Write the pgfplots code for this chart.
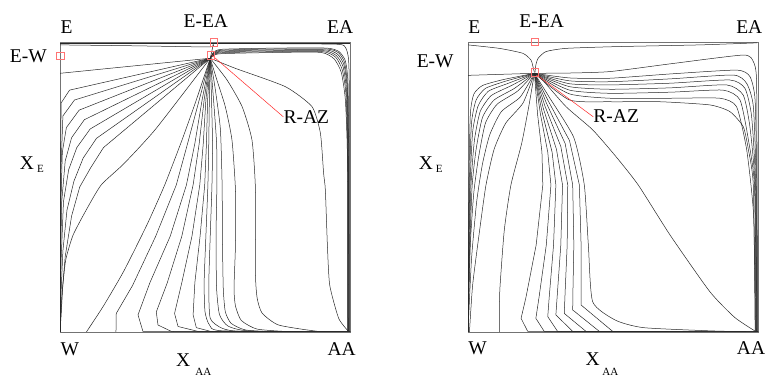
\documentclass[border=0pt]{standalone}
\usepackage{fontspec}
\setmainfont{Liberation Serif}
\newfontfamily\labfont{Liberation Serif}
\usepackage{pgfplots}
\pgfplotsset{compat=1.18}
\begin{document}
\begin{tikzpicture}
\useasboundingbox (0,0) rectangle (766pt,379pt);
\pgfplotsset{
  rcm/.style={width=290pt,height=290pt,scale only axis,xmin=0,xmax=1,ymin=0,ymax=1,
    xtick=\empty,ytick=\empty,axis line style={draw=black!55,line width=0.7pt},
    clip mode=individual,anchor=south west},
}
\tikzset{rc/.style={black!85,line width=0.5pt,smooth,tension=0.35,mark=none},
  rs/.style={black!85,line width=0.5pt,sharp plot,mark=none},
  lab/.style={font=\labfont\fontsize{19.5}{23}\selectfont,inner sep=0pt},
  sub/.style={font=\labfont\fontsize{11}{13}\selectfont,inner sep=0pt}}

% ---------------- left panel ----------------
\begin{axis}[rcm,at={(60pt,47pt)}]
% top lines
\addplot[rs] coordinates {(0,0.996)(0.53,0.996)(1,0.996)};
\addplot[rc] coordinates {(0,0.99)(0.25,0.987)(0.51,0.983)(0.528,0.99)};
\addplot[rs] coordinates {(0.518,0.944)(0.524,0.97)(0.529,0.995)};
\addplot[rc] coordinates {(0.53,0.995)(0.75,0.994)(0.96,0.992)(0.985,0.98)(0.995,0.94)(0.998,0.8)(0.999,0)};
% bundle to EA / AA
\addplot[rc] coordinates {(0.518,0.944)(0.53,0.965)(0.56,0.975)(0.75,0.979)(0.92,0.979)(0.962,0.967)(0.984,0.935)(0.993,0.86)(0.996,0.6)(0.997,0)};
\addplot[rc] coordinates {(0.518,0.944)(0.53,0.962)(0.56,0.972)(0.75,0.976)(0.92,0.976)(0.960,0.963)(0.981,0.930)(0.991,0.85)(0.995,0.6)(0.996,0)};
\addplot[rc] coordinates {(0.518,0.944)(0.53,0.960)(0.56,0.969)(0.75,0.973)(0.915,0.973)(0.957,0.958)(0.979,0.922)(0.990,0.84)(0.994,0.6)(0.995,0)};
\addplot[rc] coordinates {(0.518,0.944)(0.53,0.958)(0.56,0.966)(0.75,0.970)(0.91,0.970)(0.953,0.953)(0.976,0.915)(0.988,0.83)(0.993,0.6)(0.994,0)};
\addplot[rc] coordinates {(0.518,0.944)(0.53,0.956)(0.56,0.963)(0.75,0.967)(0.905,0.967)(0.950,0.948)(0.973,0.905)(0.986,0.82)(0.992,0.6)(0.993,0)};
\addplot[rc] coordinates {(0.518,0.944)(0.53,0.954)(0.56,0.960)(0.75,0.964)(0.90,0.964)(0.945,0.942)(0.970,0.895)(0.984,0.80)(0.991,0.6)(0.992,0)};
% left fan
\addplot[rs] coordinates {(0.518,0.944)(0,0.892)};
\addplot[rs] coordinates {(0.518,0.944)(0.033,0.834)(0.004,0.79)(0.001,0.5)(0,0)};
\addplot[rs] coordinates {(0.518,0.944)(0.050,0.800)(0.010,0.745)(0.003,0.55)(0,0)};
\addplot[rs] coordinates {(0.518,0.944)(0.066,0.765)(0.022,0.705)(0.008,0.62)(0.002,0.4)(0,0)};
\addplot[rs] coordinates {(0.518,0.944)(0.084,0.732)(0.040,0.670)(0.018,0.590)(0.006,0.45)(0.001,0.2)(0,0)};
\addplot[rs] coordinates {(0.518,0.944)(0.104,0.700)(0.058,0.636)(0.030,0.560)(0.012,0.45)(0.004,0.25)(0,0)};
\addplot[rs] coordinates {(0.518,0.944)(0.126,0.668)(0.080,0.600)(0.048,0.520)(0.024,0.42)(0.010,0.28)(0.003,0.12)(0,0)};
\addplot[rs] coordinates {(0.518,0.944)(0.150,0.636)(0.105,0.565)(0.068,0.500)(0.040,0.40)(0.018,0.26)(0.006,0.12)(0,0)};
\addplot[rc] coordinates {(0.518,0.944)(0.33,0.70)(0.22,0.58)(0.142,0.507)(0.09,0.42)(0.045,0.334)(0.02,0.25)(0.01,0.162)(0.004,0.06)(0,0)};
% bottom fan
\addplot[rc] coordinates {(0.518,0.944)(0.47,0.80)(0.42,0.66)(0.361,0.507)(0.30,0.37)(0.22,0.21)(0.15,0.09)(0.091,0)};
\addplot[rs] coordinates {(0.518,0.944)(0.48,0.80)(0.44,0.65)(0.401,0.507)(0.33,0.33)(0.25,0.16)(0.194,0.064)(0.193,0)};
\addplot[rs] coordinates {(0.518,0.944)(0.49,0.80)(0.465,0.65)(0.436,0.507)(0.38,0.33)(0.31,0.17)(0.269,0.059)(0.286,0.002)(1,0)};
\addplot[rs] coordinates {(0.518,0.944)(0.497,0.80)(0.48,0.65)(0.459,0.507)(0.42,0.33)(0.37,0.17)(0.332,0.069)(0.338,0.024)(0.384,0.002)(1,0)};
\addplot[rs] coordinates {(0.518,0.944)(0.503,0.80)(0.494,0.65)(0.482,0.507)(0.455,0.33)(0.42,0.17)(0.395,0.064)(0.407,0.019)(0.476,0.002)(1,0)};
\addplot[rs] coordinates {(0.518,0.944)(0.509,0.80)(0.505,0.65)(0.499,0.507)(0.483,0.33)(0.465,0.17)(0.459,0.059)(0.47,0.015)(0.52,0.002)(1,0)};
\addplot[rc] coordinates {(0.518,0.944)(0.515,0.80)(0.513,0.65)(0.510,0.507)(0.503,0.33)(0.497,0.17)(0.5,0.07)(0.515,0.025)(0.56,0.004)(1,0)};
\addplot[rc] coordinates {(0.518,0.944)(0.522,0.82)(0.526,0.65)(0.524,0.507)(0.518,0.33)(0.513,0.162)(0.518,0.047)(0.559,0.013)(0.628,0.002)(1,0)};
\addplot[rc] coordinates {(0.518,0.944)(0.528,0.82)(0.54,0.65)(0.541,0.507)(0.538,0.33)(0.54,0.15)(0.55,0.06)(0.58,0.02)(0.66,0.003)(1,0)};
\addplot[rc] coordinates {(0.518,0.944)(0.535,0.84)(0.553,0.70)(0.559,0.507)(0.56,0.33)(0.563,0.15)(0.57,0.07)(0.59,0.03)(0.64,0.007)(0.75,0.001)(1,0)};
\addplot[rc] coordinates {(0.518,0.944)(0.541,0.869)(0.570,0.777)(0.593,0.662)(0.605,0.49)(0.605,0.3)(0.60,0.15)(0.605,0.09)(0.625,0.04)(0.68,0.01)(0.8,0.001)(1,0)};
\addplot[rc] coordinates {(0.518,0.944)(0.576,0.869)(0.628,0.777)(0.662,0.662)(0.674,0.49)(0.674,0.2)(0.68,0.116)(0.697,0.065)(0.754,0.024)(0.892,0.002)(1,0)};
\addplot[rc] coordinates {(0.518,0.944)(0.605,0.909)(0.777,0.846)(0.869,0.777)(0.898,0.685)(0.909,0.547)(0.915,0.49)(0.922,0.3)(0.93,0.162)(0.961,0.047)(0.995,0.002)};
% markers and red line
\addplot[red!85,line width=0.5pt,mark=none] coordinates {(0.523,0.955)(0.770,0.742)};
\addplot[only marks,mark=square,mark size=3.8pt,red!55,mark options={line width=0.6pt}] coordinates {(0.531,0.999)(0.52,0.955)(0,0.952)};
\node[lab,anchor=west] at (axis cs:0.770,0.741) {R-AZ};
\node[lab] at (axis cs:0.023,1.053) {E};
\node[lab] at (axis cs:0.503,1.073) {E-EA};
\node[lab] at (axis cs:0.966,1.053) {EA};
\node[lab] at (axis cs:-0.109,0.952) {E-W};
\node[lab] at (axis cs:-0.114,0.584) {X};
\node[sub] at (axis cs:-0.067,0.562) {E};
\node[lab] at (axis cs:0.034,-0.06) {W};
\node[lab] at (axis cs:0.971,-0.06) {AA};
\node[lab] at (axis cs:0.425,-0.097) {X};
\node[sub] at (axis cs:0.494,-0.138) {AA};
\end{axis}

% ---------------- right panel ----------------
\begin{axis}[rcm,at={(468pt,47pt)}]
% top
\addplot[rc] coordinates {(0.0,0.99)(0.108,0.978)(0.189,0.961)(0.217,0.938)(0.224,0.915)(0.229,0.895)};
\addplot[rc] coordinates {(0.231,0.895)(0.234,0.921)(0.242,0.944)(0.269,0.967)(0.338,0.978)(0.51,0.984)(0.8,0.99)(0.996,0.997)};
\addplot[rs] coordinates {(0,0.885)(0.229,0.892)};
% bundle to EA / AA
\addplot[rc] coordinates {(0.229,0.892)(0.35,0.893)(0.49,0.898)(0.7,0.925)(0.949,0.955)(0.984,0.932)(0.995,0.869)(0.997,0.5)(0.998,0)};
\addplot[rc] coordinates {(0.229,0.892)(0.35,0.876)(0.49,0.875)(0.7,0.89)(0.926,0.903)(0.972,0.881)(0.99,0.8)(0.996,0.5)(0.997,0)};
\addplot[rc] coordinates {(0.229,0.892)(0.35,0.866)(0.49,0.863)(0.7,0.873)(0.915,0.886)(0.961,0.857)(0.984,0.777)(0.994,0.5)(0.996,0)};
\addplot[rc] coordinates {(0.229,0.892)(0.35,0.856)(0.49,0.852)(0.7,0.858)(0.903,0.869)(0.955,0.840)(0.978,0.743)(0.992,0.5)(0.995,0)};
\addplot[rc] coordinates {(0.229,0.892)(0.35,0.846)(0.49,0.837)(0.7,0.842)(0.892,0.852)(0.949,0.817)(0.972,0.708)(0.99,0.5)(0.994,0)};
\addplot[rc] coordinates {(0.229,0.892)(0.35,0.834)(0.49,0.823)(0.7,0.827)(0.88,0.834)(0.938,0.8)(0.967,0.662)(0.988,0.5)(0.993,0)};
\addplot[rc] coordinates {(0.229,0.892)(0.35,0.821)(0.49,0.806)(0.7,0.806)(0.869,0.806)(0.926,0.777)(0.961,0.628)(0.985,0.4)(0.992,0)};
\addplot[rc] coordinates {(0.229,0.892)(0.35,0.80)(0.49,0.794)(0.662,0.794)(0.834,0.783)(0.903,0.76)(0.949,0.708)(0.967,0.628)(0.984,0.5)(0.99,0)};
% left fan
\addplot[rc] coordinates {(0.229,0.892)(0.12,0.87)(0.05,0.85)(0.02,0.82)(0.008,0.75)(0.003,0.5)(0,0)};
\addplot[rc] coordinates {(0.229,0.892)(0.13,0.865)(0.06,0.84)(0.028,0.80)(0.012,0.72)(0.005,0.5)(0,0)};
\addplot[rc] coordinates {(0.229,0.892)(0.14,0.858)(0.07,0.83)(0.035,0.78)(0.016,0.69)(0.007,0.5)(0.002,0.2)(0,0)};
\addplot[rc] coordinates {(0.229,0.892)(0.15,0.85)(0.08,0.815)(0.042,0.76)(0.022,0.66)(0.01,0.5)(0.003,0.2)(0,0)};
\addplot[rc] coordinates {(0.229,0.892)(0.16,0.84)(0.09,0.80)(0.05,0.74)(0.028,0.63)(0.014,0.5)(0.005,0.25)(0,0)};
\addplot[rc] coordinates {(0.229,0.892)(0.17,0.83)(0.10,0.785)(0.06,0.72)(0.036,0.60)(0.02,0.48)(0.008,0.3)(0,0)};
\addplot[rc] coordinates {(0.229,0.892)(0.18,0.81)(0.115,0.76)(0.075,0.68)(0.05,0.58)(0.03,0.45)(0.012,0.25)(0,0)};
\addplot[rc] coordinates {(0.229,0.892)(0.19,0.79)(0.13,0.72)(0.09,0.63)(0.062,0.507)(0.04,0.35)(0.016,0.162)(0.005,0)};
\addplot[rc] coordinates {(0.229,0.892)(0.21,0.78)(0.185,0.65)(0.148,0.507)(0.125,0.35)(0.11,0.15)(0.108,0.05)(0.108,0)};
% bottom fan
\addplot[rs] coordinates {(0.229,0.892)(0.24,0.75)(0.255,0.62)(0.258,0.507)(0.235,0.3)(0.2,0.12)(0.183,0.047)(0.206,0.002)(1,0)};
\addplot[rs] coordinates {(0.229,0.892)(0.25,0.75)(0.275,0.62)(0.286,0.507)(0.27,0.3)(0.245,0.12)(0.234,0.047)(0.263,0.002)(1,0)};
\addplot[rs] coordinates {(0.229,0.892)(0.255,0.76)(0.29,0.62)(0.303,0.507)(0.295,0.3)(0.28,0.12)(0.275,0.053)(0.309,0.002)(1,0)};
\addplot[rs] coordinates {(0.229,0.892)(0.26,0.77)(0.305,0.63)(0.326,0.507)(0.32,0.3)(0.308,0.13)(0.303,0.059)(0.361,0.002)(1,0)};
\addplot[rs] coordinates {(0.229,0.892)(0.265,0.78)(0.32,0.64)(0.344,0.507)(0.342,0.3)(0.335,0.14)(0.332,0.064)(0.407,0.002)(1,0)};
\addplot[rs] coordinates {(0.229,0.892)(0.27,0.79)(0.335,0.65)(0.361,0.507)(0.365,0.3)(0.362,0.15)(0.361,0.076)(0.453,0.002)(1,0)};
\addplot[rs] coordinates {(0.229,0.892)(0.275,0.80)(0.35,0.66)(0.384,0.507)(0.39,0.3)(0.39,0.15)(0.39,0.093)(0.499,0.002)(1,0)};
\addplot[rc] coordinates {(0.229,0.892)(0.28,0.81)(0.365,0.67)(0.401,0.507)(0.415,0.3)(0.43,0.104)(0.51,0.04)(0.605,0.015)(0.834,0.004)(1,0)};
\addplot[rc] coordinates {(0.229,0.892)(0.257,0.869)(0.338,0.777)(0.43,0.697)(0.51,0.605)(0.587,0.507)(0.697,0.334)(0.834,0.139)(0.92,0.05)(0.995,0)};
% markers and red line
\addplot[red!85,line width=0.5pt,mark=none] coordinates {(0.237,0.886)(0.432,0.742)};
\addplot[only marks,mark=square,mark size=3.8pt,red!55,mark options={line width=0.6pt}] coordinates {(0.231,1.0)(0.231,0.895)(-0.001,0.932)};
\node[lab,anchor=west] at (axis cs:0.432,0.745) {R-AZ};
\node[lab] at (axis cs:0.022,1.053) {E};
\node[lab] at (axis cs:0.254,1.073) {E-EA};
\node[lab] at (axis cs:0.97,1.053) {EA};
\node[lab] at (axis cs:-0.113,0.932) {E-W};
\node[lab] at (axis cs:-0.145,0.584) {X};
\node[sub] at (axis cs:-0.099,0.564) {E};
\node[lab] at (axis cs:0.033,-0.056) {W};
\node[lab] at (axis cs:0.976,-0.056) {AA};
\node[lab] at (axis cs:0.43,-0.095) {X};
\node[sub] at (axis cs:0.491,-0.138) {AA};
\end{axis}
\end{tikzpicture}
\end{document}
